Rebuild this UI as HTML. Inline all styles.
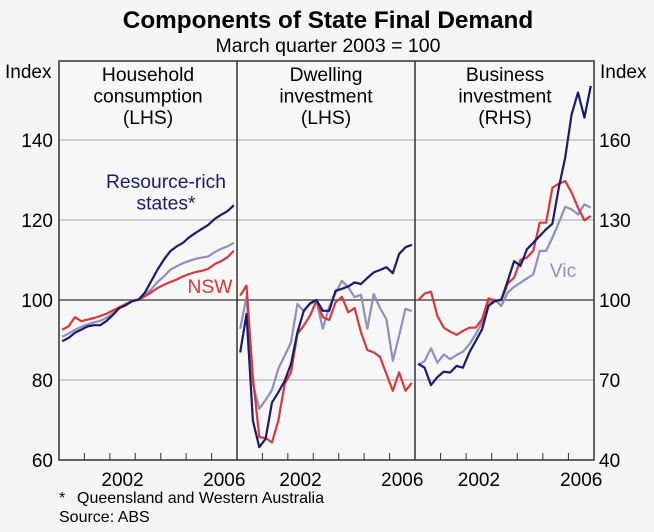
<!DOCTYPE html>
<html><head><meta charset="utf-8"><style>
body{margin:0;background:#f5f5f5;}
svg{display:block;font-family:"Liberation Sans",Arial,sans-serif;}
</style></head><body>
<svg id="chart" width="654" height="532" viewBox="0 0 654 532">
<rect x="0" y="0" width="654" height="532" fill="#f5f5f5"/>
<text x="328" y="28" text-anchor="middle" font-size="24.3" font-weight="bold" fill="#000">Components of State Final Demand</text>
<text x="328" y="52" text-anchor="middle" font-size="19.5" fill="#000">March quarter 2003 = 100</text>
<text x="5" y="78" font-size="19" fill="#000">Index</text>
<text x="600" y="78" font-size="19" fill="#000">Index</text>
<rect x="59" y="61" width="535" height="399" fill="#f7f7f7"/>
<g id="grid"></g>
<g id="series"></g>
<g id="frame"></g>
<g id="labels"></g>
<text x="148" y="81" text-anchor="middle" font-size="19.3"><tspan x="148">Household</tspan><tspan x="148" dy="21.5">consumption</tspan><tspan x="148" dy="21.5">(LHS)</tspan></text>
<text x="326" y="81" text-anchor="middle" font-size="19.3"><tspan x="326">Dwelling</tspan><tspan x="326" dy="21.5">investment</tspan><tspan x="326" dy="21.5">(LHS)</tspan></text>
<text x="505" y="81" text-anchor="middle" font-size="19.3"><tspan x="505">Business</tspan><tspan x="505" dy="21.5">investment</tspan><tspan x="505" dy="21.5">(RHS)</tspan></text>
<text x="166" y="188" text-anchor="middle" font-size="19.3" fill="#1a1a6e"><tspan x="166">Resource-rich</tspan><tspan x="166" dy="21.5">states*</tspan></text>
<text x="210" y="293" text-anchor="middle" font-size="19.3" fill="#d9383a">NSW</text>
<text x="563" y="277" text-anchor="middle" font-size="19.3" fill="#8f8fbf">Vic</text>
<text x="59" y="503" font-size="16">*</text>
<text x="77" y="503" font-size="16">Queensland and Western Australia</text>
<text x="59" y="522" font-size="16">Source: ABS</text>
</svg>
<script>
const quarterStart = 2000.125;
const leftTicks = [60, 80, 100, 120, 140];
const rightTicks = [40, 70, 100, 130, 160];
const yearLabels = [2002, 2006];
const hhRes = [89.7,90.5,91.8,92.6,93.4,93.7,93.7,94.8,96.3,98.0,98.7,99.7,100.1,101.8,104.7,107.6,110.1,112.2,113.4,114.3,115.7,116.8,117.8,118.8,120.3,121.3,122.2,123.7];
const hhNSW = [92.6,93.4,95.7,94.7,95.1,95.5,96.0,96.6,97.4,98.2,99.0,99.7,100.1,100.9,101.9,103.0,103.8,104.5,105.1,105.9,106.5,107.0,107.3,107.8,109.0,109.7,110.7,112.3];
const hhVic = [90.8,91.6,92.5,93.3,93.9,94.4,94.8,95.6,96.7,98.0,99.0,99.7,100.1,101.3,102.6,104.5,105.9,107.6,108.4,109.2,109.8,110.3,110.6,110.9,112.0,112.8,113.4,114.3];
const dwRes = [86.9,96.5,69.8,63.2,65.3,74.4,76.9,79.8,84.0,91.9,97.3,99.2,100,97.3,97.3,102.3,102.8,103.4,104.4,104.0,105.5,106.9,107.5,108.2,106.7,111.5,113.2,113.8];
const dwNSW = [101.1,103.6,80.7,65.7,65.5,64.4,69.8,79.0,81.9,91.5,93.6,96.1,99.8,95.7,95.0,99.4,100.8,96.9,98.0,91.9,87.5,86.9,85.8,81.5,77.3,81.9,77.3,79.3];
const dwVic = [92.8,100.8,79.0,72.8,75.0,77.5,82.8,86.1,89.4,99.0,97.2,99.0,99.8,92.8,98.3,101.7,104.8,103.2,100.7,101.3,92.8,101.5,98.0,95.2,84.8,91.1,97.8,97.2];
const biRes = [76.1,74.6,68.1,71.1,73.1,72.8,75.3,74.6,80.3,84.6,89.0,97.8,99.6,100.1,107.1,114.6,112.8,119.0,121.5,124.0,126.5,128.6,142.1,153.4,169.6,177.8,168.4,180.3];
const biNSW = [99.9,102.4,103.1,94.0,89.6,88.1,86.9,88.4,89.6,89.6,92.8,100.6,99.9,99.9,106.1,108.4,115.0,115.9,118.4,129.0,129.0,142.1,143.6,144.6,140.3,134.6,129.9,131.5];
const biVic = [75.6,77.1,81.9,76.5,79.6,77.8,79.4,80.6,83.4,87.1,91.5,99.0,100.1,97.8,102.8,104.9,106.5,108.1,109.6,118.4,118.4,123.4,129.0,134.9,134.0,132.1,135.9,134.6];

const NS='http://www.w3.org/2000/svg';
const panels=[{x0:59,x1:237,name:'household'},{x0:237,x1:415,name:'dwelling'},{x0:415,x1:594,name:'business'}];
const TOP=61,BOT=460;
function xs(p,t){return p.x0+(t-2000)*(p.x1-p.x0)/7;}
function yLeft(v){return 460-(v-60)*4;}
function yRight(v){return 460-(v-40)*(8/3);}
function mk(tag,attrs,parent){const e=document.createElementNS(NS,tag);for(const k in attrs)e.setAttribute(k,attrs[k]);parent.appendChild(e);return e;}
const grid=document.getElementById('grid'),series=document.getElementById('series'),frame=document.getElementById('frame'),labels=document.getElementById('labels');
leftTicks.forEach(v=>{
  const y=yLeft(v);
  if(v>60){const l=mk('line',{x1:59,x2:594,y1:y,y2:y,stroke:v===100?'#555':'#b5b5b5','stroke-width':v===100?1.5:1.3},grid);
  
  }
  const t=mk('text',{x:53,y:y+7,'text-anchor':'end','font-size':19},labels);t.textContent=v;
  
  
});
rightTicks.forEach(v=>{
  const t=mk('text',{x:599,y:yRight(v)+7,'font-size':19},labels);t.textContent=v;
  
  
});
panels.forEach(p=>{
  for(let yr=2001;yr<=2006;yr++){const x=xs(p,yr);
    const tk=mk('line',{x1:x,x2:x,y1:BOT,y2:BOT-7,stroke:'#333','stroke-width':1},frame);
    
    }
  yearLabels.forEach(yr=>{const t=mk('text',{x:xs(p,yr+0.5),y:BOT+26,'text-anchor':'middle','font-size':19},labels);t.textContent=yr;
    
    });
});
const sets=[[hhVic,hhNSW,hhRes,0,yLeft],[dwVic,dwNSW,dwRes,1,yLeft],[biVic,biNSW,biRes,2,yRight]];
const cols=['#8f8fbf','#d9383a','#1a1a6e'],names=['vic','nsw','resource-rich'];
sets.forEach(s=>{const p=panels[s[3]],fy=s[4];
  for(let k=0;k<3;k++){const d=s[k].map((v,i)=>(i?'L':'M')+xs(p,quarterStart+0.25*i).toFixed(1)+','+fy(v).toFixed(1)).join('');
    const path=mk('path',{d:d,fill:'none',stroke:cols[k],'stroke-width':2.2,'stroke-linejoin':'round'},series);
    
    }
});
const fr=mk('rect',{x:59,y:TOP,width:535,height:BOT-TOP,fill:'none',stroke:'#333','stroke-width':1.5},frame);


[237,415].forEach(x=>{const l=mk('line',{x1:x,x2:x,y1:TOP,y2:BOT,stroke:'#333','stroke-width':1.5},frame);
  
  });
</script>
</body></html>
